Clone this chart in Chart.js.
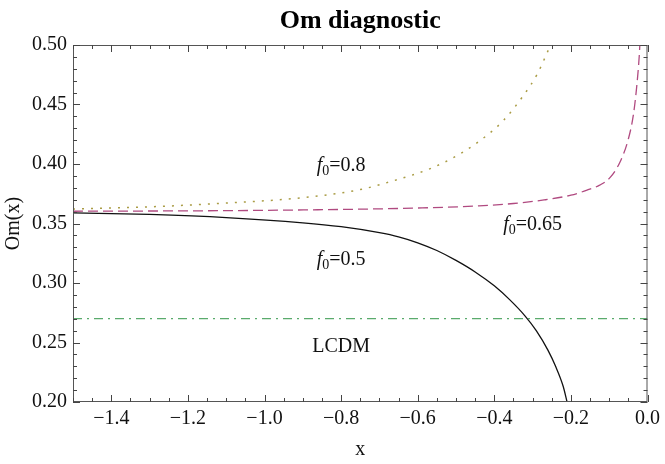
<!DOCTYPE html>
<html>
<head>
<meta charset="utf-8">
<script src="https://cdn.jsdelivr.net/npm/chart.js@4.4.1/dist/chart.umd.min.js"></script>
<style>
    html, body { margin: 0; padding: 0; background: #fff; }
</style>
</head>
<body>
<canvas id="chartCanvas" width="665" height="464"></canvas>
<script>
// Om(x) curves, one x array and one value array per curve
const x05 = [-1.5, -1.3, -1.1, -0.9, -0.8, -0.7, -0.65, -0.6, -0.55, -0.5, -0.45, -0.4, -0.36, -0.32, -0.29, -0.26, -0.24, -0.22, -0.21];
const om05 = [0.359, 0.3576, 0.355, 0.3506, 0.3473, 0.3423, 0.3388, 0.3338, 0.3273, 0.319, 0.3093, 0.2976, 0.286, 0.2724, 0.2598, 0.2436, 0.230, 0.213, 0.200];

const x065 = [-1.5, -1.1, -0.8, -0.6, -0.44, -0.35, -0.27, -0.2, -0.158, -0.125, -0.098, -0.072, -0.05, -0.037, -0.0285, -0.0215, -0.020];
const om065 = [0.3603, 0.3608, 0.3618, 0.363, 0.3648, 0.3668, 0.3698, 0.3738, 0.378, 0.3822, 0.3885, 0.4015, 0.421, 0.441, 0.464, 0.491, 0.50];

const x08 = [-1.5, -1.3, -1.1, -0.96, -0.85, -0.75, -0.65, -0.565, -0.487, -0.418, -0.375, -0.323, -0.288, -0.253];
const om08 = [0.3622, 0.364, 0.3672, 0.370, 0.3735, 0.3785, 0.3872, 0.3964, 0.409, 0.4244, 0.437, 0.458, 0.4755, 0.50];

const xLcdm = [-1.5, 0.0];
const omLcdm = [0.27, 0.27];

const xTicks = [-1.4, -1.2, -1.0, -0.8, -0.6, -0.4, -0.2, 0.0];
const yTicks = [0.20, 0.25, 0.30, 0.35, 0.40, 0.45, 0.50];

// text placed next to the curves, in data units
const curveLabels = [
    { f0: "0.8", x: -0.8, y: 0.3996 },
    { f0: "0.65", x: -0.3, y: 0.3504 },
    { f0: "0.5", x: -0.8, y: 0.321 },
    { text: "LCDM", x: -0.8, y: 0.2483 }
];

const FONT = '"Liberation Serif", "Times New Roman", serif';

function pts(xs, ys) {
    return xs.map((v, i) => ({ x: v, y: ys[i] }));
}

function fmtX(v) {
    if (Math.abs(v) < 1e-9) return "0.0";
    return (v < 0 ? "\u2212" : "") + Math.abs(v).toFixed(1);
}

function drawF0(ctx, cx, cy, val) {
    const main = "20px " + FONT;
    const ital = "italic 20px " + FONT;
    const sub = "14px " + FONT;
    ctx.font = ital; const wf = ctx.measureText("f").width;
    ctx.font = sub; const ws = ctx.measureText("0").width;
    ctx.font = main; const wr = ctx.measureText("=" + val).width;
    let sx = cx - (wf + ws + wr) / 2;
    const base = cy + 7;
    ctx.font = ital; ctx.fillText("f", sx, base); sx += wf;
    ctx.font = sub; ctx.fillText("0", sx, base + 4); sx += ws;
    ctx.font = main; ctx.fillText("=" + val, sx, base);
}

// Mathematica style frame: box round the plot with ticks pointing inward on all sides
const framePlugin = {
    id: "frame",
    afterDraw(chart) {
        const c = chart.ctx;
        const a = chart.chartArea;
        const xs = chart.scales.x, ys = chart.scales.y;
        c.save();
        c.strokeStyle = "#555";
        c.lineWidth = 1;
        c.setLineDash([]);
        c.strokeRect(a.left + 0.5, a.top + 0.5, a.width - 1, a.height - 1);

        c.fillStyle = "#444";
        for (let i = 0; i <= 30; i++) {
            const px = Math.round(xs.getPixelForValue(-1.5 + i * 0.05));
            const len = (i + 2) % 4 === 0 ? 7 : 4;
            c.fillRect(px, a.bottom - len, 1, len);
            c.fillRect(px, a.top, 1, len);
        }
        for (let i = 0; i <= 30; i++) {
            const py = Math.round(ys.getPixelForValue(0.2 + i * 0.01));
            const len = i % 5 === 0 ? 7 : 4;
            c.fillRect(a.left, py, len, 1);
            c.fillRect(a.right - len, py, len, 1);
        }

        c.fillStyle = "#111";
        c.textAlign = "left";
        c.textBaseline = "alphabetic";
        curveLabels.forEach(l => {
            const cx = xs.getPixelForValue(l.x);
            const cy = ys.getPixelForValue(l.y);
            if (l.f0) {
                drawF0(c, cx, cy, l.f0);
            } else {
                c.font = "20px " + FONT;
                const w = c.measureText(l.text).width;
                c.fillText(l.text, cx - w / 2, cy + 7);
            }
        });
        c.restore();
    }
};

new Chart(document.getElementById("chartCanvas"), {
    type: "line",
    data: {
        datasets: [
            {
                label: "LCDM",
                data: pts(xLcdm, omLcdm),
                borderColor: "#5aab6c",
                borderWidth: 1.3,
                borderDash: [9, 5, 2, 5],
                pointRadius: 0
            },
            {
                label: "f0=0.8",
                data: pts(x08, om08),
                borderColor: "#aa9c45",
                borderWidth: 1.5,
                borderDash: [2, 7],
                pointRadius: 0,
                cubicInterpolationMode: "monotone"
            },
            {
                label: "f0=0.65",
                data: pts(x065, om065),
                borderColor: "#b04a80",
                borderWidth: 1.3,
                borderDash: [10, 5],
                pointRadius: 0,
                cubicInterpolationMode: "monotone"
            },
            {
                label: "f0=0.5",
                data: pts(x05, om05),
                borderColor: "#111",
                borderWidth: 1.3,
                pointRadius: 0,
                cubicInterpolationMode: "monotone"
            }
        ]
    },
    options: {
        responsive: false,
        animation: false,
        layout: { padding: { left: 0, right: 14, top: 0, bottom: 0 } },
        plugins: {
            legend: { display: false },
            tooltip: { enabled: false },
            title: {
                display: true,
                text: "Om diagnostic",
                fullSize: false,
                color: "#000",
                font: { family: FONT, size: 26, weight: "bold" },
                padding: { top: 6, bottom: 7.8 }
            }
        },
        scales: {
            x: {
                type: "linear",
                min: -1.5,
                max: 0,
                grid: { display: false, drawTicks: false },
                border: { display: false },
                afterBuildTicks: s => { s.ticks = xTicks.map(v => ({ value: v })); },
                afterFit: s => { s.height = 62; },
                ticks: {
                    autoSkip: false,
                    maxRotation: 0,
                    padding: 5,
                    color: "#111",
                    font: { family: FONT, size: 20 },
                    callback: v => fmtX(v)
                },
                title: {
                    display: true,
                    text: "x",
                    color: "#111",
                    font: { family: FONT, size: 20 },
                    padding: { top: 0, bottom: 2.5 }
                }
            },
            y: {
                type: "linear",
                min: 0.2,
                max: 0.5,
                grid: { display: false, drawTicks: false },
                border: { display: false },
                afterBuildTicks: s => { s.ticks = yTicks.map(v => ({ value: v })); },
                afterFit: s => { s.width = 73; },
                ticks: {
                    autoSkip: false,
                    padding: 6,
                    color: "#111",
                    font: { family: FONT, size: 20 },
                    callback: v => v.toFixed(2)
                },
                title: {
                    display: true,
                    text: "Om(x)",
                    color: "#111",
                    font: { family: FONT, size: 20 },
                    padding: { top: 2, bottom: 0 }
                }
            }
        }
    },
    plugins: [framePlugin]
});
</script>
</body>
</html>
